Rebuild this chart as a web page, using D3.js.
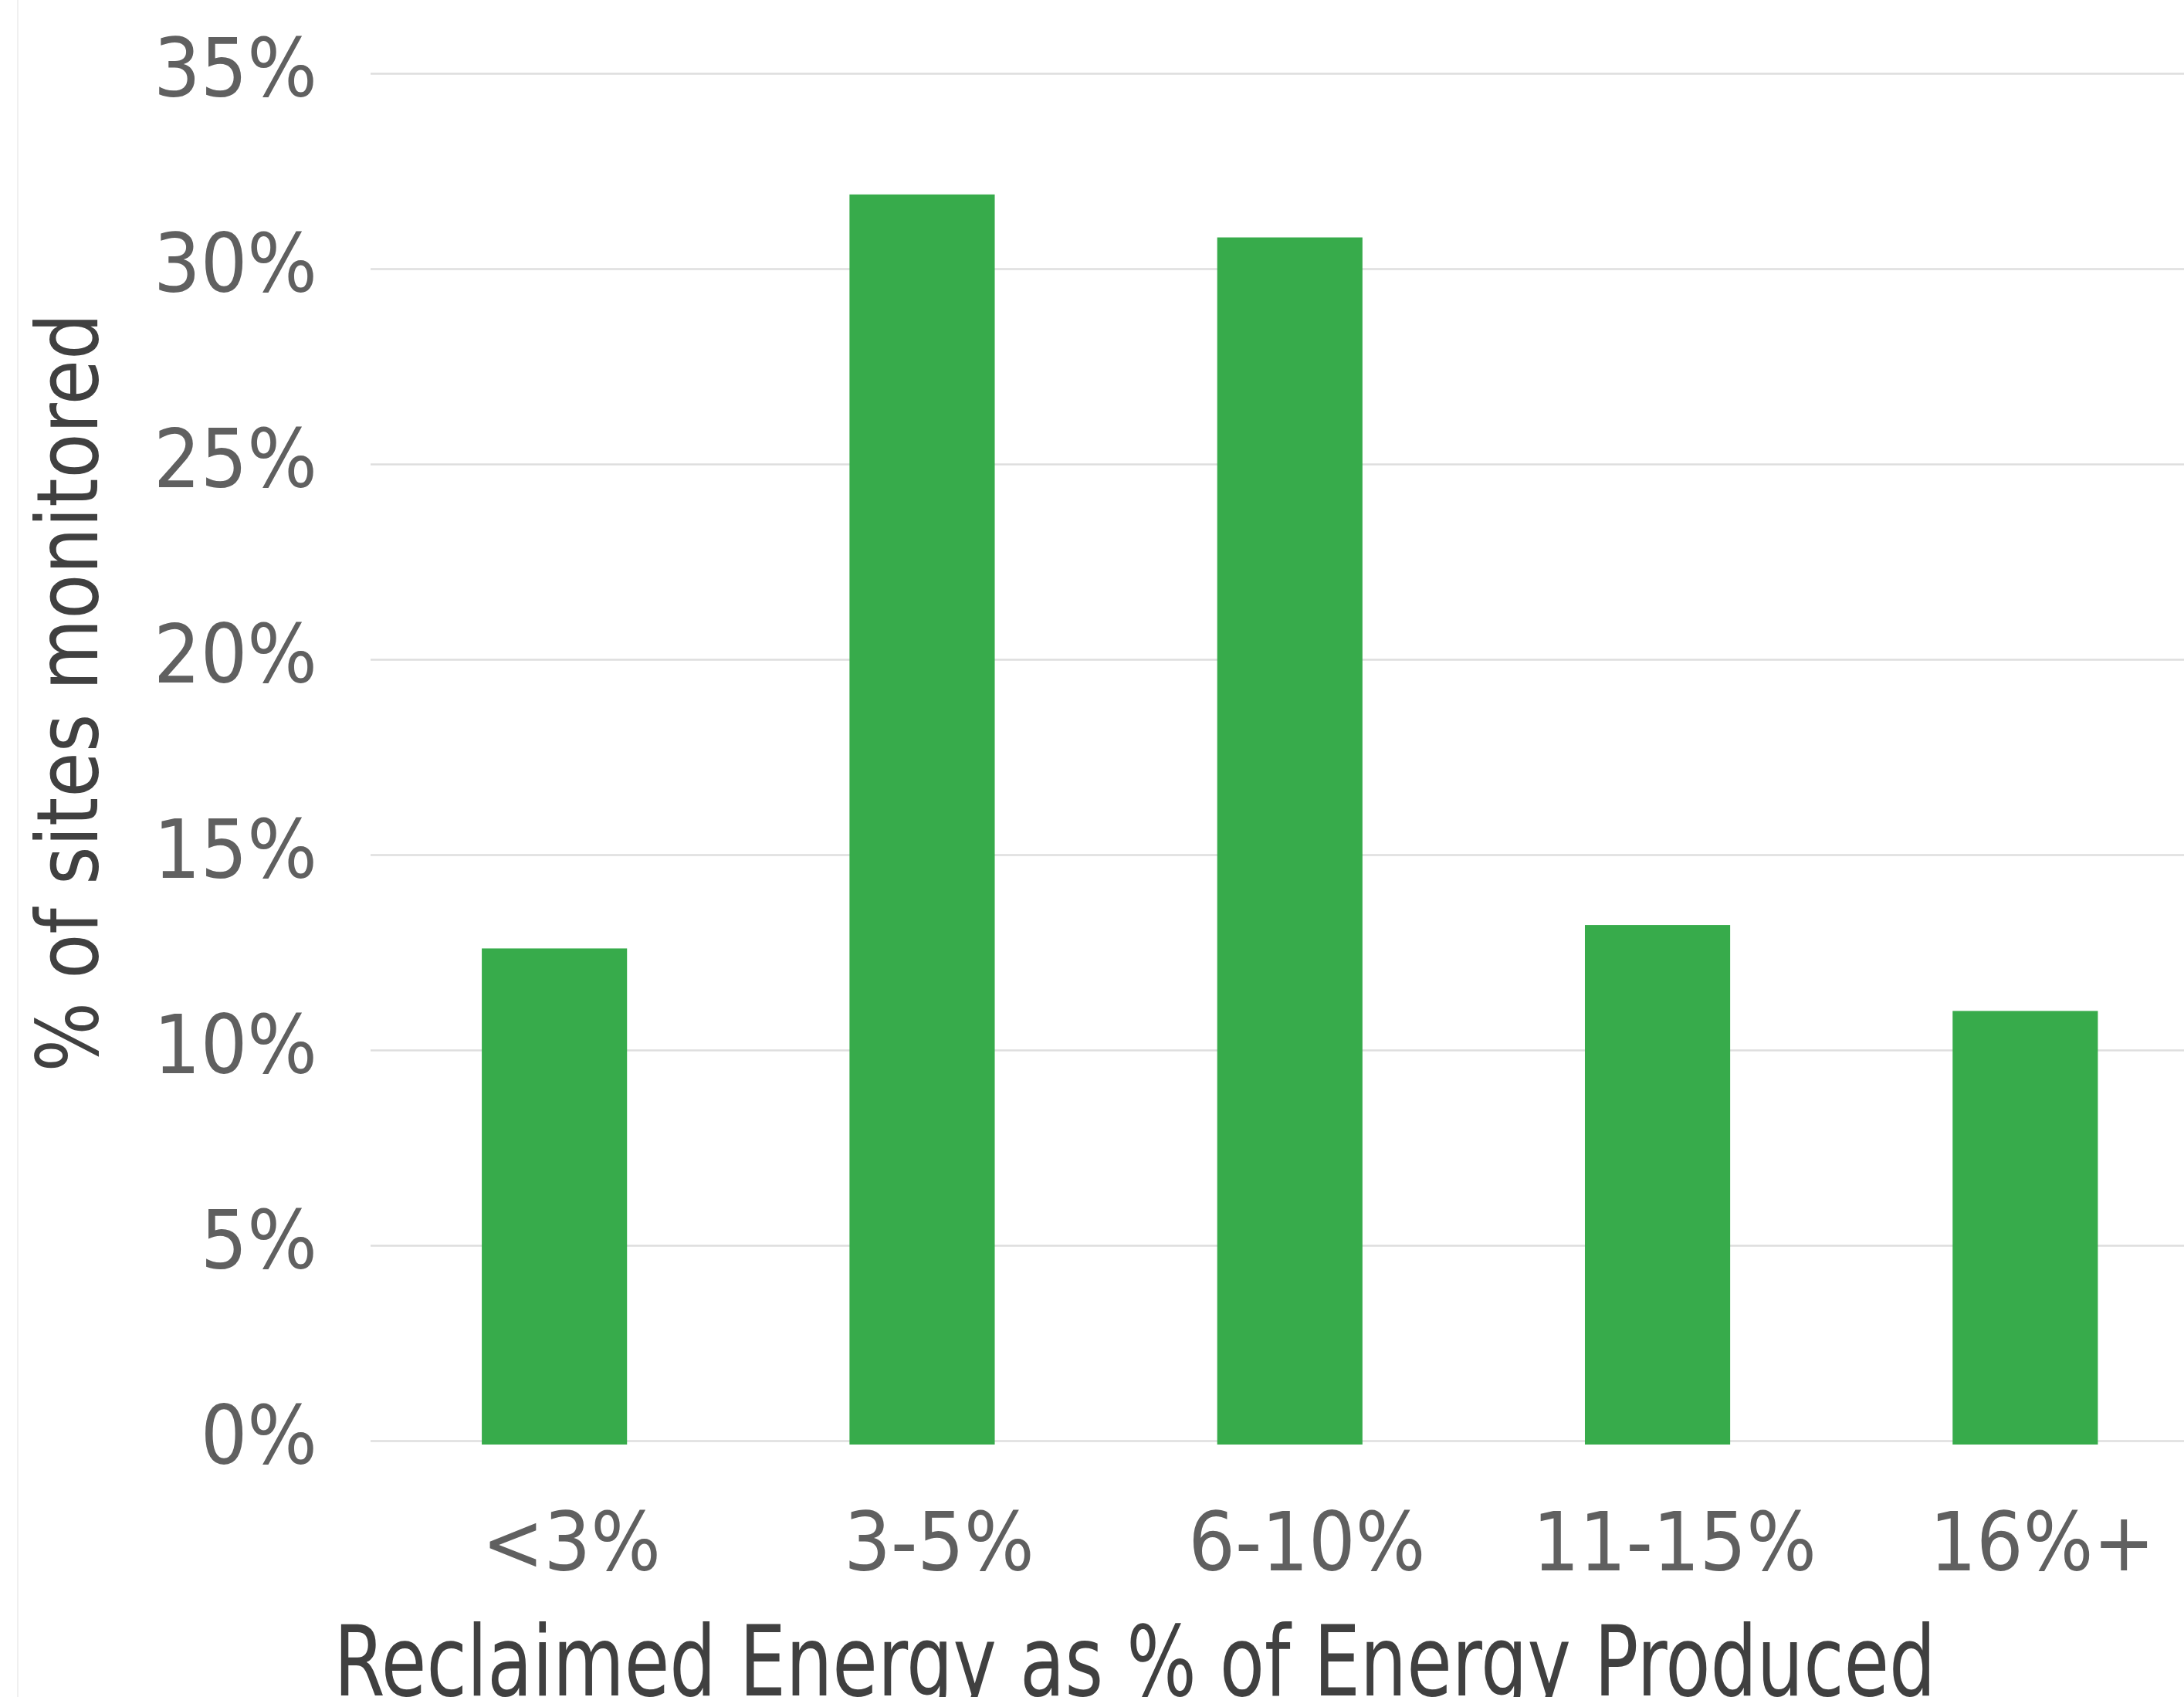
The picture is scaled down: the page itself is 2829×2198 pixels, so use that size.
<!DOCTYPE html>
<html>
<head>
<meta charset="utf-8">
<script src="https://cdn.jsdelivr.net/npm/d3@7"></script>
<style>
  html, body { margin: 0; padding: 0; background: #fff; }
  svg { display: block; }
  text { font-family: 'DejaVu Sans Condensed', 'DejaVu Sans', sans-serif; font-stretch: condensed; }
</style>
</head>
<body>
<div id="chart"></div>
<script>
// bar chart - share of monitored sites by reclaimed energy bucket

const categories = ['<3%', '3-5%', '6-10%', '11-15%', '16%+'];
const siteShare = [12.6, 31.9, 30.8, 13.2, 11.0];
const yTicks = [0, 5, 10, 15, 20, 25, 30, 35];

const width = 2829;
const height = 2198;
const margin = { top: 95, left: 480, bottom: 332 };

const svg = d3.select('#chart')
    .append('svg')
    .attr('width', width)
    .attr('height', height)
    .style('background', '#fff');

// faint border at the left edge
svg.append('line')
    .attr('x1', 23).attr('x2', 23)
    .attr('y1', 0).attr('y2', height)
    .attr('stroke', '#f0f0f0')
    .attr('stroke-width', 2);

const x = d3.scaleBand()
    .domain(categories)
    .range([margin.left, margin.left + 5 * 476.3])
    .paddingInner(0.605)
    .paddingOuter(0.3025);

const y = d3.scaleLinear()
    .domain([0, 35])
    .range([height - margin.bottom, margin.top]);

// gridlines + tick labels
const yAxis = d3.axisLeft(y)
    .tickValues(yTicks)
    .tickSize(-(width - margin.left))
    .tickPadding(69)
    .tickFormat(d => d + '%');

const gy = svg.append('g')
    .attr('transform', `translate(${margin.left},0)`)
    .call(yAxis);
gy.select('.domain').remove();
gy.selectAll('.tick line')
    .attr('stroke', '#dedede')
    .attr('stroke-width', 2.5);
gy.selectAll('.tick text')
    .attr('fill', '#606060')
    .attr('font-size', 106)
    .attr('dy', 29)
    .attr('text-anchor', 'end');

// bars
svg.append('g')
    .selectAll('rect')
    .data(categories)
    .enter()
    .append('rect')
    .attr('x', d => x(d))
    .attr('width', x.bandwidth())
    .attr('y', (d, i) => y(siteShare[i]))
    .attr('height', (d, i) => y(0) - y(siteShare[i]) + 5)
    .attr('fill', '#37ab4b');

// category labels
const xAxis = d3.axisBottom(x)
    .tickSize(0)
    .tickPadding(0);

const gx = svg.append('g')
    .attr('transform', `translate(22,${y(0)})`)
    .call(xAxis);
gx.select('.domain').remove();
gx.selectAll('.tick text')
    .attr('fill', '#606060')
    .attr('font-size', 106)
    .attr('dy', 0)
    .attr('y', 168);

// axis titles (squeezed a bit to match the narrower original face)
svg.append('text')
    .attr('x', 1470)
    .attr('y', height - 2)
    .attr('text-anchor', 'middle')
    .attr('font-size', 126)
    .attr('fill', '#404040')
    .attr('textLength', 2075)
    .attr('lengthAdjust', 'spacingAndGlyphs')
    .text('Reclaimed Energy as % of Energy Produced');

svg.append('text')
    .attr('transform', 'translate(126,897) rotate(-90)')
    .attr('text-anchor', 'middle')
    .attr('font-size', 110)
    .attr('fill', '#404040')
    .attr('textLength', 983)
    .attr('lengthAdjust', 'spacingAndGlyphs')
    .text('% of sites monitored');
</script>
</body>
</html>
